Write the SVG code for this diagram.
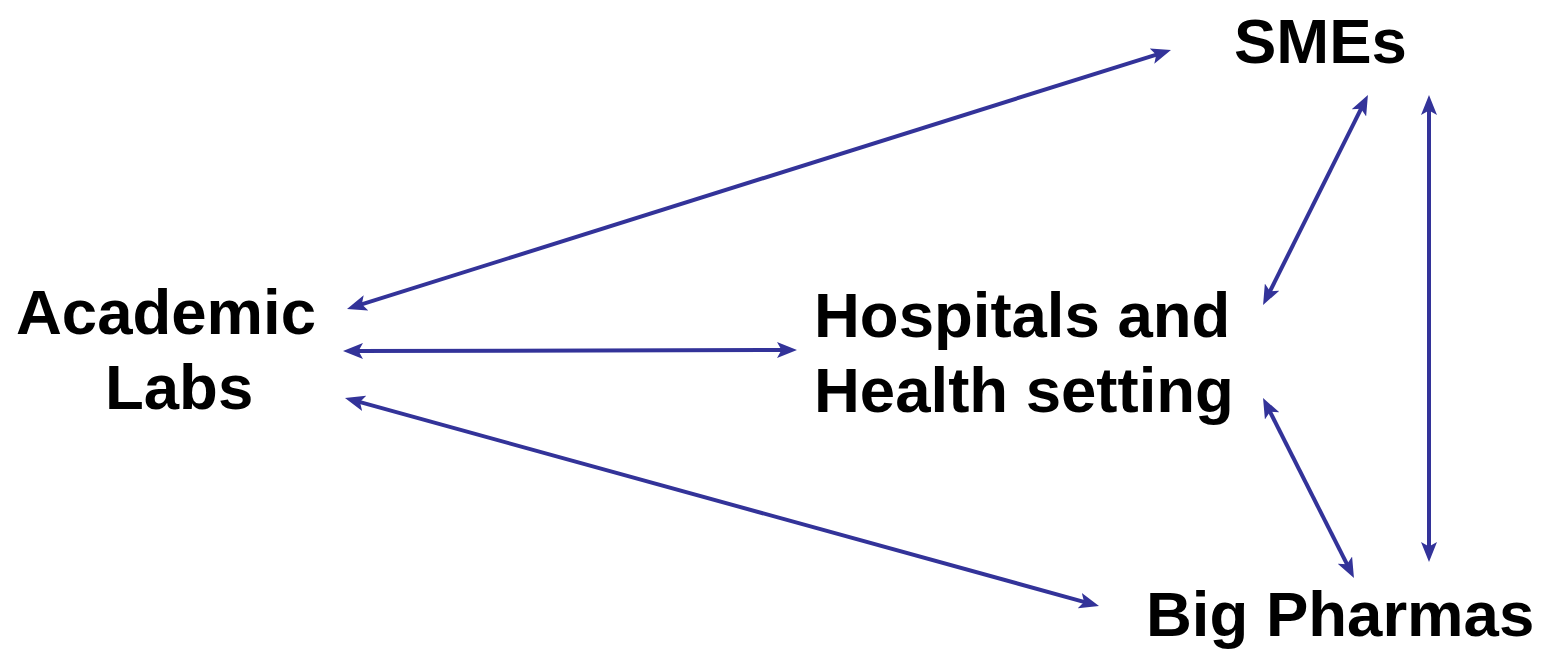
<svg xmlns="http://www.w3.org/2000/svg" width="1545" height="649" viewBox="0 0 1545 649">
<style>
.lbl{font-family:"Liberation Sans",Arial,sans-serif;font-weight:bold;font-size:63.5px;fill:#000}
.con{stroke:#333399;stroke-width:4;fill:none;marker-start:url(#ah);marker-end:url(#ah)}
</style>
<defs>
<marker id="ah" markerUnits="userSpaceOnUse" viewBox="0 0 20 16" markerWidth="20" markerHeight="16" refX="9" refY="8" orient="auto-start-reverse">
<path d="M20,8 L0,0 L4.5,8 L0,16 Z" fill="#333399"/>
</marker>
</defs>
<rect width="1545" height="649" fill="#fff"/>
<g id="connectors">
<line class="con" x1="357.5" y1="305.7" x2="1160.5" y2="53.3"/>
<line class="con" x1="354" y1="351" x2="786" y2="350"/>
<line class="con" x1="355.6" y1="400.9" x2="1088.4" y2="603.1"/>
<line class="con" x1="1363" y1="104.8" x2="1268" y2="295.2"/>
<line class="con" x1="1429" y1="106" x2="1429" y2="551"/>
<line class="con" x1="1268" y1="407.8" x2="1349" y2="568.2"/>
</g>
<g id="academic">
<text class="lbl" x="16" y="334">Academic</text>
<text class="lbl" x="105" y="409">Labs</text>
</g>
<g id="hospitals">
<text class="lbl" x="814" y="337">Hospitals and</text>
<text class="lbl" x="814" y="412">Health setting</text>
</g>
<g id="smes">
<text class="lbl" x="1234" y="63">SMEs</text>
</g>
<g id="bigpharmas">
<text class="lbl" x="1146" y="636">Big Pharmas</text>
</g>
</svg>
